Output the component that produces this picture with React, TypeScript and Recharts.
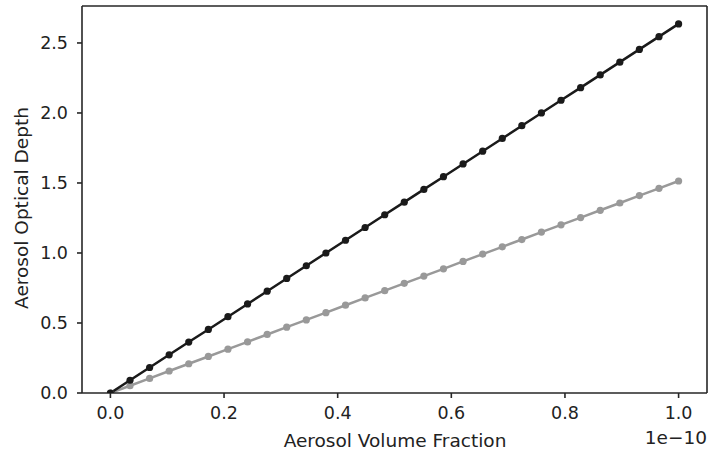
import React from "react";
import { LineChart, Line, XAxis, YAxis, ReferenceLine } from "recharts";

const xValues = [0, 0.0345, 0.069, 0.1034, 0.1379, 0.1724, 0.2069, 0.2414, 0.2759, 0.3103, 0.3448, 0.3793, 0.4138, 0.4483, 0.4828, 0.5172, 0.5517, 0.5862, 0.6207, 0.6552, 0.6897, 0.7241, 0.7586, 0.7931, 0.8276, 0.8621, 0.8966, 0.931, 0.9655, 1.0];
const darkSeries = [0, 0.091, 0.182, 0.273, 0.364, 0.454, 0.545, 0.636, 0.727, 0.818, 0.909, 1.0, 1.091, 1.182, 1.273, 1.363, 1.454, 1.545, 1.636, 1.727, 1.818, 1.909, 2.0, 2.091, 2.181, 2.272, 2.363, 2.454, 2.545, 2.636];
const graySeries = [0, 0.052, 0.104, 0.157, 0.209, 0.261, 0.313, 0.365, 0.418, 0.47, 0.522, 0.574, 0.627, 0.679, 0.731, 0.783, 0.835, 0.887, 0.94, 0.992, 1.044, 1.096, 1.149, 1.201, 1.253, 1.305, 1.357, 1.41, 1.462, 1.514];
const xTicks = [0, 0.2, 0.4, 0.6, 0.8, 1.0];
const yTicks = [0, 0.5, 1.0, 1.5, 2.0, 2.5];

const data = xValues.map((x, i) => ({ x, dark: darkSeries[i], gray: graySeries[i] }));

const X_MIN = -0.05;
const X_MAX = 1.05;
const Y_MIN = 0;
const Y_MAX = 2.764;

const FONT = "DejaVu Sans";
const TEXT = "#222222";
const FRAME = "#262626";
const TICK_SIZE = 17.5;
const LABEL_SIZE = 18.5;

const XLabel = (props: any) => {
  const vb = props.viewBox || {};
  const right = vb.x + vb.width;
  const y = vb.y;
  return (
    <g>
      <text x={395} y={y + 54} textAnchor="middle" fontFamily={FONT} fontSize={LABEL_SIZE} fill={TEXT}>
        Aerosol Volume Fraction
      </text>
      <text x={right} y={y + 51} textAnchor="end" fontFamily={FONT} fontSize={LABEL_SIZE} fill={TEXT}>
        1e−10
      </text>
    </g>
  );
};

const YLabel = () => (
  <text
    x={0}
    y={0}
    transform="translate(28, 208) rotate(-90)"
    textAnchor="middle"
    fontFamily={FONT}
    fontSize={LABEL_SIZE}
    fill={TEXT}
  >
    Aerosol Optical Depth
  </text>
);

export default function App() {
  return (
    <div style={{ position: "absolute", left: 0, top: 0 }}>
      <LineChart width={708} height={453} data={data} margin={{ top: 6, right: 1, bottom: 0, left: 0 }}>
        <XAxis
          dataKey="x"
          type="number"
          domain={[X_MIN, X_MAX]}
          ticks={xTicks}
          tickFormatter={(v: number) => v.toFixed(1)}
          allowDataOverflow
          height={60}
          stroke={FRAME}
          strokeWidth={1.6}
          tickSize={5}
          tickMargin={9}
          tick={{ fontFamily: FONT, fontSize: TICK_SIZE, fill: TEXT }}
          label={<XLabel />}
        />
        <YAxis
          type="number"
          domain={[Y_MIN, Y_MAX]}
          ticks={yTicks}
          tickFormatter={(v: number) => v.toFixed(1)}
          allowDataOverflow
          width={82}
          stroke={FRAME}
          strokeWidth={1.6}
          tickSize={5}
          tickMargin={9}
          tick={{ fontFamily: FONT, fontSize: TICK_SIZE, fill: TEXT }}
          label={<YLabel />}
        />
        <ReferenceLine y={Y_MAX} stroke={FRAME} strokeWidth={1.6} ifOverflow="extendDomain" />
        <ReferenceLine x={X_MAX} stroke={FRAME} strokeWidth={1.6} ifOverflow="extendDomain" />
        <Line
          dataKey="gray"
          stroke="#999999"
          strokeWidth={2.5}
          dot={{ r: 3.6, fill: "#999999", stroke: "#999999", strokeWidth: 0 }}
          activeDot={false}
          isAnimationActive={false}
        />
        <Line
          dataKey="dark"
          stroke="#1a1a1a"
          strokeWidth={2.5}
          dot={{ r: 3.6, fill: "#1a1a1a", stroke: "#1a1a1a", strokeWidth: 0 }}
          activeDot={false}
          isAnimationActive={false}
        />
      </LineChart>
    </div>
  );
}
